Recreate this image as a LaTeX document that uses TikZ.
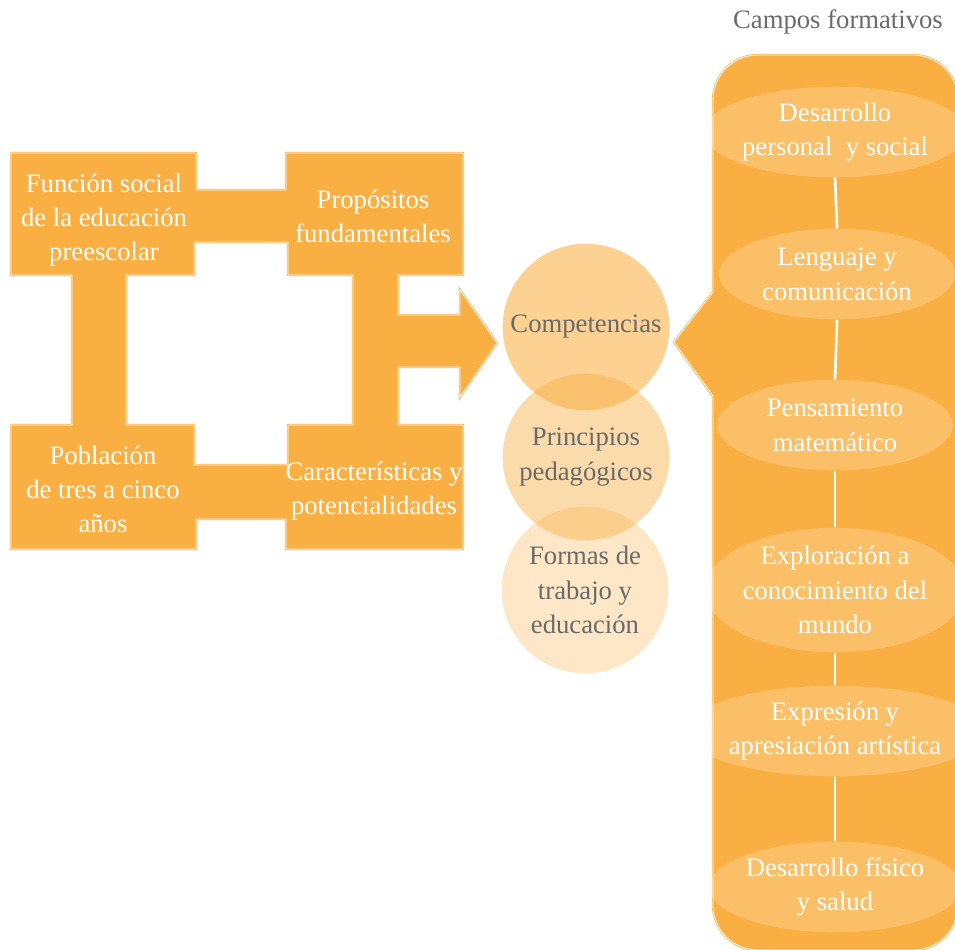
\documentclass[tikz,border=0pt]{standalone}
\usepackage{fontspec}
\setmainfont{Liberation Serif}
\usetikzlibrary{shapes.geometric}
\definecolor{boxorange}{HTML}{F9AF42}
\definecolor{txtgray}{HTML}{6A6A6C}
\tikzset{
  outlined/.style={fill=boxorange, draw=boxorange, double=white, double distance=0.6pt, line width=0.55pt, even odd rule},
  boxtext/.style={text=white, align=center, font=\fontsize{20}{25.5}\selectfont, inner sep=0pt},
  circtext/.style={circle, minimum size=125pt, inner sep=0pt, align=center, text=txtgray, fill=boxorange, text opacity=1, font=\fontsize{20}{26}\selectfont},
  fieldell/.style={ellipse, minimum width=177pt, minimum height=68pt, inner sep=0pt, fill=white, fill opacity=0.2, text opacity=1, text=white, align=center, font=\fontsize{20}{26}\selectfont},
  linkline/.style={draw=white, line width=2pt}
}
\begin{document}
\begin{tikzpicture}[x=0.75pt,y=-0.75pt]
\useasboundingbox (0,0) rectangle (955,949);
% left combined shape
\path[outlined]
 (11,153) -- (196,153) -- (196,190) -- (286,190) -- (286,153) -- (463,153) -- (463,275)
 -- (398,275) -- (398,315) -- (460,315) -- (460,290) -- (497,343) -- (460,397) -- (460,367)
 -- (398,367) -- (398,425) -- (463,425) -- (463,549) -- (286,549) -- (286,519) -- (196,519)
 -- (196,549) -- (11,549) -- (11,425) -- (72,425) -- (72,275) -- (11,275) -- cycle
 (126,275) -- (194,275) -- (194,242) -- (288,242) -- (288,275) -- (353,275) -- (353,425)
 -- (288,425) -- (288,465) -- (194,465) -- (194,425) -- (126,425) -- cycle;
\node[boxtext] (funcion) at (104,220) {Función social\\de la educación\\preescolar};
\node[boxtext] (propositos) at (373,216) {Propósitos\\fundamentales};
\node[boxtext] (poblacion) at (103,489) {Población\\de tres a cinco\\años};
\node[boxtext] (caract) at (374,491) {Características y\\potencialidades};
% right panel
\path[outlined]
 (713,396) -- (674,342) -- (713,292) [rounded corners=33.75pt] -- (713,55) -- (958,55)
 -- (958,950) -- (713,950) [sharp corners] -- cycle;
\node[text=txtgray, font=\fontsize{20}{24}\selectfont, inner sep=0pt] (campos) at (838,22) {Campos formativos};
% circles
\node[circtext, fill opacity=0.3] (formas) at (585,590) {Formas de\\trabajo y\\educación};
\node[circtext, fill opacity=0.45] (principios) at (586,457) {Principios\\pedagógicos};
\node[circtext, fill opacity=0.58] (competencias) at (586,327) {Competencias};
% fields
\node[fieldell] (e1) at (835,132) {Desarrollo\\personal~ y social};
\node[fieldell] (e2) at (837,274) {Lenguaje y\\comunicación};
\node[fieldell] (e3) at (835,425) {Pensamiento\\matemático};
\node[fieldell, minimum height=85pt] (e4) at (835,590) {Exploración a\\conocimiento del\\mundo};
\node[fieldell] (e5) at (835,731) {Expresión y\\apresiación artística};
\node[fieldell] (e6) at (835,887) {Desarrollo físico\\y salud};
\draw[linkline] (e1.south) -- (e2.north);
\draw[linkline] (e2.south) -- (e3.north);
\draw[linkline] (e3.south) -- (e4.north);
\draw[linkline] (e4.south) -- (e5.north);
\draw[linkline] (e5.south) -- (e6.north);
\end{tikzpicture}
\end{document}
